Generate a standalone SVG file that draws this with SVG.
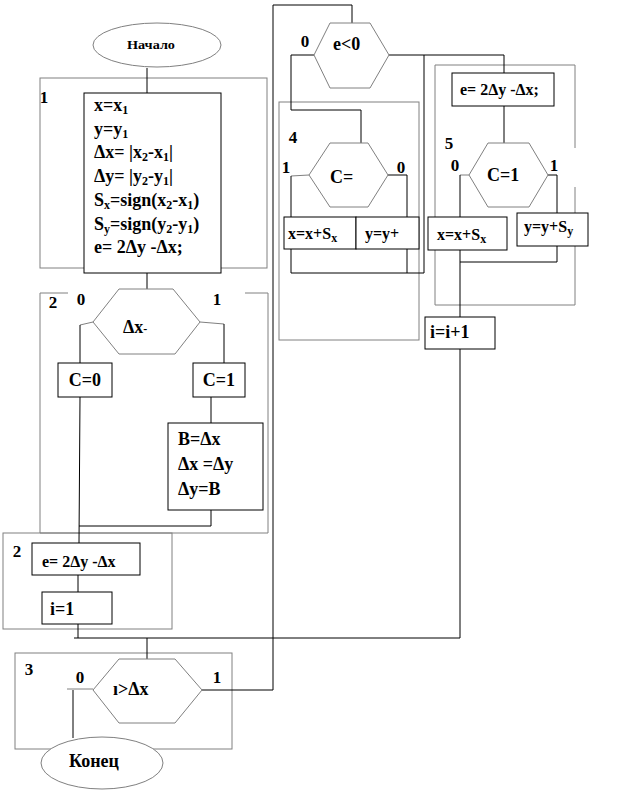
<svg xmlns="http://www.w3.org/2000/svg" width="619" height="790" viewBox="0 0 619 790">
<style>
.frame{fill:none;stroke:#808080;stroke-width:1}
.box{fill:#fff;stroke:#000;stroke-width:1}
.hex{fill:#fff;stroke:#808080;stroke-width:1}
.wire{fill:none;stroke:#000;stroke-width:1}
.gw{fill:none;stroke:#808080;stroke-width:1}
.t{font-family:"Liberation Serif","Times New Roman",serif;font-weight:bold;font-size:18px;fill:#000}
.s{font-size:16px}
.lbl{font-family:"Liberation Serif","Times New Roman",serif;font-weight:bold;font-size:17px;fill:#000}
.sub{font-size:12px}
</style>
<rect width="619" height="790" fill="#fff"/>
<g id="frames">
<rect class="frame" x="40" y="78" width="227" height="190"/>
<path class="frame" d="M68,293 H40 V533 H268 V293 H245"/>
<rect class="frame" x="3" y="533" width="169" height="96"/>
<rect class="frame" x="15" y="653" width="217" height="96"/>
<rect class="frame" x="279" y="102" width="140" height="238"/>
<path class="frame" d="M575,148 V65 H435 V305 H575 V187"/>
</g>
<g id="connectors">
<path class="wire" d="M147,68 V93"/>
<path class="wire" d="M147,273 V289"/>
<path class="gw" d="M93,322 L80,325"/>
<path class="wire" d="M80,325 V363"/>
<path class="gw" d="M200,322 L224,324"/>
<path class="wire" d="M224,324 V363"/>
<path class="wire" d="M211,397 V423"/>
<path class="wire" d="M211,510 V526 H79"/>
<path class="wire" d="M80,397 L79,543"/>
<path class="wire" d="M78,575 V592"/>
<path class="wire" d="M78,624 V638"/>
<path class="wire" d="M74,638 H460"/>
<path class="wire" d="M147,638 V659"/>
<path class="wire" d="M202,690 H273 V5 H352 V23"/>
<path class="gw" d="M93,689 H67"/>
<path class="wire" d="M73,690 V738"/>
<path class="wire" d="M314,55 H291 V110 H361 V143"/>
<path class="wire" d="M389,55 H504 V73"/>
<path class="wire" d="M424,55 V273"/>
<path class="gw" d="M309,175 L291,176"/>
<path class="wire" d="M291,176 V217"/>
<path class="wire" d="M388,175 H407 V217"/>
<path class="wire" d="M291,249 V273 H424"/>
<path class="wire" d="M407,249 V273"/>
<path class="wire" d="M504,106 V143"/>
<path class="gw" d="M469,175 H460"/>
<path class="wire" d="M460,175 V217"/>
<path class="wire" d="M548,175 H557 V213"/>
<path class="wire" d="M557,246 V262 H460"/>
<path class="wire" d="M460,250 V317"/>
<path class="wire" d="M460,349 V638"/>
</g>
<g id="start">
<ellipse class="hex" cx="157" cy="45" rx="64" ry="22"/>
<text class="t" x="151" y="49" text-anchor="middle" textLength="48" lengthAdjust="spacingAndGlyphs" style="font-size:13px">Начало</text>
</g>
<g id="label1"><text class="lbl" x="44" y="103" text-anchor="middle">1</text></g>
<g id="init">
<rect class="box" x="84" y="93" width="137" height="180"/>
<text class="t" x="94" y="111">x=x<tspan class="sub" dy="3">1</tspan></text>
<text class="t" x="94" y="135">y=y<tspan class="sub" dy="3">1</tspan></text>
<text class="t" x="94" y="158">Δx= |x<tspan class="sub" dy="3">2</tspan><tspan dy="-3">-x</tspan><tspan class="sub" dy="3">1</tspan><tspan dy="-3">|</tspan></text>
<text class="t" x="94" y="182">Δy= |y<tspan class="sub" dy="3">2</tspan><tspan dy="-3">-y</tspan><tspan class="sub" dy="3">1</tspan><tspan dy="-3">|</tspan></text>
<text class="t" x="94" y="206">S<tspan class="sub" dy="3">x</tspan><tspan dy="-3">=sign(x</tspan><tspan class="sub" dy="3">2</tspan><tspan dy="-3">-x</tspan><tspan class="sub" dy="3">1</tspan><tspan dy="-3">)</tspan></text>
<text class="t" x="94" y="230">S<tspan class="sub" dy="3">y</tspan><tspan dy="-3">=sign(y</tspan><tspan class="sub" dy="3">2</tspan><tspan dy="-3">-y</tspan><tspan class="sub" dy="3">1</tspan><tspan dy="-3">)</tspan></text>
<text class="t" x="94" y="253">e= 2Δy -Δx;</text>
</g>
<g id="labels2">
<text class="lbl" x="53" y="308" text-anchor="middle">2</text>
<text class="lbl" x="81" y="305" text-anchor="middle">0</text>
<text class="lbl" x="217" y="305" text-anchor="middle">1</text>
</g>
<g id="cmp-dx">
<polygon class="hex" points="119,289 173,289 200,322 175,354 119,354 93,322"/>
<text class="t" x="123" y="333">Δx<tspan style="font-size:12px">-</tspan></text>
</g>
<g id="c0">
<rect class="box" x="58" y="363" width="54" height="34"/>
<text class="t" x="85" y="386" text-anchor="middle">C=0</text>
</g>
<g id="c1">
<rect class="box" x="193" y="363" width="52" height="34"/>
<text class="t" x="219" y="386" text-anchor="middle">C=1</text>
</g>
<g id="swap">
<rect class="box" x="168" y="423" width="95" height="87"/>
<text class="t" x="178" y="445">B=Δx</text>
<text class="t" x="178" y="470">Δx =Δy</text>
<text class="t" x="178" y="495">Δy=B</text>
</g>
<g id="label2b"><text class="lbl" x="17" y="557" text-anchor="middle">2</text></g>
<g id="e-init">
<rect class="box" x="32" y="543" width="108" height="32"/>
<text class="t s" x="42" y="567">e= 2Δy -Δx</text>
</g>
<g id="i-init">
<rect class="box" x="42" y="592" width="70" height="32"/>
<text class="t" x="50" y="615">i=1</text>
</g>
<g id="labels3">
<text class="lbl" x="29" y="675" text-anchor="middle">3</text>
<text class="lbl" x="80" y="683" text-anchor="middle">0</text>
<text class="lbl" x="217" y="683" text-anchor="middle">1</text>
</g>
<g id="cmp-i">
<polygon class="hex" points="119,659 175,659 202,690 175,723 119,723 93,690"/>
<text class="t" x="113" y="695">ı&gt;Δx</text>
</g>
<g id="end">
<ellipse class="hex" cx="102" cy="763" rx="61" ry="26"/>
<text class="t" x="94" y="767" text-anchor="middle">Конец</text>
</g>
<g id="cmp-e">
<polygon class="hex" points="330,23 370,23 389,55 370,88 330,88 314,55"/>
<text class="t" x="333" y="50">e&lt;0</text>
</g>
<g id="labels4">
<text class="lbl" x="305" y="47" text-anchor="middle">0</text>
<text class="lbl" x="293" y="143" text-anchor="middle">4</text>
<text class="lbl" x="286" y="173" text-anchor="middle">1</text>
<text class="lbl" x="401" y="173" text-anchor="middle">0</text>
</g>
<g id="cmp-c4">
<polygon class="hex" points="330,143 368,143 388,175 368,207 330,207 309,175"/>
<text class="t" x="330" y="183">C=</text>
</g>
<g id="x4">
<rect class="box" x="284" y="217" width="72" height="32"/>
<text class="t s" x="288" y="239">x=x+S<tspan class="sub" dy="3">x</tspan></text>
</g>
<g id="y4">
<rect class="box" x="356" y="217" width="63" height="32"/>
<text class="t s" x="365" y="239">y=y+</text>
</g>
<g id="labels5">
<text class="lbl" x="449" y="149" text-anchor="middle">5</text>
<text class="lbl" x="455" y="171" text-anchor="middle">0</text>
<text class="lbl" x="554" y="171" text-anchor="middle">1</text>
</g>
<g id="e5">
<rect class="box" x="452" y="73" width="102" height="33"/>
<text class="t s" x="460" y="95">e= 2Δy -Δx;</text>
</g>
<g id="cmp-c5">
<polygon class="hex" points="488,143 529,143 548,175 529,207 488,207 469,175"/>
<text class="t" x="487" y="181">C=1</text>
</g>
<g id="x5">
<rect class="box" x="428" y="217" width="79" height="33"/>
<text class="t s" x="437" y="240">x=x+S<tspan class="sub" dy="3">x</tspan></text>
</g>
<g id="y5">
<rect class="box" x="517" y="213" width="71" height="33"/>
<text class="t s" x="524" y="232">y=y+S<tspan class="sub" dy="3">y</tspan></text>
</g>
<g id="inc">
<rect class="box" x="425" y="317" width="70" height="32"/>
<text class="t" x="430" y="338">i=i+1</text>
</g>
</svg>
